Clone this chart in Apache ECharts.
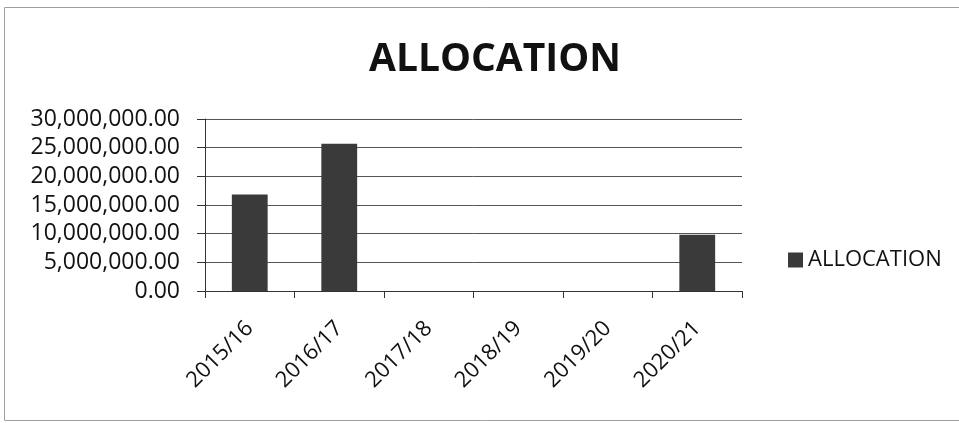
<!DOCTYPE html>
<html>
<head>
<meta charset="utf-8">
<script src="https://cdn.jsdelivr.net/npm/echarts@6/dist/echarts.min.js"></script>
<style>
html,body{margin:0;padding:0;background:#fff;}
#c{width:959px;height:423px;}
</style>
</head>
<body>
<div id="c"></div>
<script>
var categories = ['2015/16', '2016/17', '2017/18', '2018/19', '2019/20', '2020/21'];
var allocation = [16850000, 25700000, 0, 0, 0, 9800000];
var yTicks = { min: 0, max: 30000000, interval: 5000000 };
var seriesName = 'ALLOCATION';
var chartTitle = 'ALLOCATION';

var FONT = '"Open Sans", "Liberation Sans", sans-serif';
var chart = echarts.init(document.getElementById('c'), null, { renderer: 'canvas' });
chart.setOption({
  animation: false,
  backgroundColor: '#fff',
  title: {
    text: chartTitle,
    left: 490,
    textAlign: 'center',
    top: 35,
    textStyle: { fontFamily: FONT, fontSize: 39, fontWeight: 'bold', color: '#111' }
  },
  legend: {
    data: [seriesName],
    orient: 'vertical',
    left: 783,
    top: 244,
    itemWidth: 15,
    itemHeight: 15,
    itemGap: 6,
    icon: 'rect',
    textStyle: { fontFamily: FONT, fontSize: 22, color: '#111' }
  },
  grid: { left: 205, right: 217, top: 119, bottom: 132, containLabel: false },
  xAxis: {
    type: 'category',
    data: categories,
    boundaryGap: true,
    axisLine: { lineStyle: { color: '#333', width: 1 } },
    axisTick: { show: true, length: 7, lineStyle: { color: '#333' } },
    axisLabel: {
      rotate: 45,
      margin: 34,
      fontFamily: FONT,
      fontSize: 22,
      color: '#111'
    },
    splitLine: { show: false }
  },
  yAxis: {
    type: 'value',
    min: yTicks.min,
    max: yTicks.max,
    interval: yTicks.interval,
    axisLine: { show: true, lineStyle: { color: '#333', width: 1 } },
    axisTick: { show: true, length: 8, lineStyle: { color: '#333' } },
    axisLabel: {
      margin: 25,
      fontFamily: FONT,
      fontSize: 23,
      color: '#111',
      formatter: function (v) {
        return v.toLocaleString('en-US', { minimumFractionDigits: 2, maximumFractionDigits: 2 });
      }
    },
    splitLine: { show: true, lineStyle: { color: '#555', width: 1 } }
  },
  series: [{
    name: seriesName,
    type: 'bar',
    data: allocation,
    barWidth: '40%',
    itemStyle: { color: '#3a3a3a' }
  }],
  graphic: [{
    type: 'rect',
    shape: { x: 4.5, y: 7.5, width: 960, height: 413 },
    style: { fill: 'none', stroke: '#a0a0a0', lineWidth: 1 },
    silent: true,
    z: -1
  }]
});
</script>
</body>
</html>
